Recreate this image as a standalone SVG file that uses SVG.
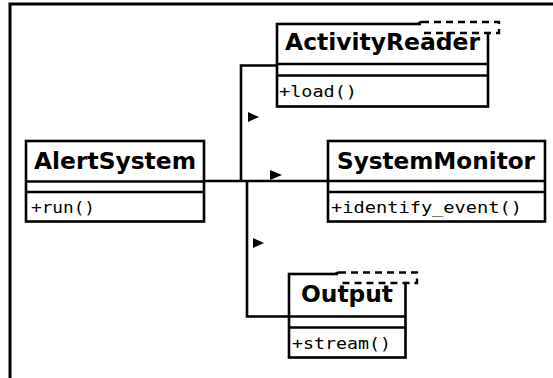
<svg xmlns="http://www.w3.org/2000/svg" width="553" height="378" viewBox="0 0 553 378">
<style>
.box{fill:#fff;stroke:#000;stroke-width:2.6}
.div{stroke:#000;stroke-width:2.6;fill:none}
.tplbg{fill:#fff;stroke:none}
.tpl{fill:none;stroke:#000;stroke-width:2.4;stroke-dasharray:7 5}
.title{font-family:"DejaVu Sans",sans-serif;font-weight:bold;font-size:23.5px;fill:#000}
.meth{font-family:"DejaVu Sans Mono",monospace;font-size:16px;fill:#000}
.conn{stroke:#000;stroke-width:2.6;fill:none}
.arr{fill:#000}
</style>
<rect width="553" height="378" fill="#fff"/>
<path d="M10,378 V4 H553" fill="none" stroke="#000" stroke-width="3"/>
<g id="connectors">
<path class="conn" d="M204,181 H328"/>
<path class="conn" d="M241,181 V65.5 H277"/>
<path class="conn" d="M247,181 V316.5 H289"/>
<polygon class="arr" points="248,112 259,117 248,122"/>
<polygon class="arr" points="270,170 282,175 270,180"/>
<polygon class="arr" points="253,238 264,243 253,248"/>
</g>
<g id="ActivityReader">
<rect class="box" x="277" y="24" width="211" height="82.5"/>
<path class="div" d="M277,64 H488 M277,75.5 H488"/>
<rect class="tplbg" x="421" y="21" width="79" height="11.5"/>
<path class="div" d="M418,24 Q420,22 422,22"/>
<path class="tpl" d="M422,22 H499 V33 H424"/>
<text class="title" x="285" y="50" textLength="195" lengthAdjust="spacingAndGlyphs">ActivityReader</text>
<text class="meth" x="279" y="97" textLength="78" lengthAdjust="spacingAndGlyphs">+load()</text>
</g>
<g id="AlertSystem">
<rect class="box" x="26" y="141" width="178" height="80.5"/>
<path class="div" d="M26,181.5 H204 M26,192 H204"/>
<text class="title" x="34" y="168.5" textLength="162" lengthAdjust="spacingAndGlyphs">AlertSystem</text>
<text class="meth" x="31" y="213" textLength="64" lengthAdjust="spacingAndGlyphs">+run()</text>
</g>
<g id="SystemMonitor">
<rect class="box" x="328" y="141" width="217" height="80.5"/>
<path class="div" d="M328,181 H545 M328,192 H545"/>
<text class="title" x="337" y="168.5" textLength="198" lengthAdjust="spacingAndGlyphs">SystemMonitor</text>
<text class="meth" x="331" y="213" textLength="191" lengthAdjust="spacingAndGlyphs">+identify_event()</text>
</g>
<g id="Output">
<rect class="box" x="289" y="274" width="116.5" height="83.5"/>
<path class="div" d="M289,316.5 H405.5 M289,327.5 H405.5"/>
<rect class="tplbg" x="338" y="271.5" width="80" height="11"/>
<path class="div" d="M335,274 Q337,272.5 339,272.5"/>
<path class="tpl" d="M339,272.5 H417 V283 H341"/>
<text class="title" x="301" y="302" textLength="92" lengthAdjust="spacingAndGlyphs">Output</text>
<text class="meth" x="292" y="349" textLength="99" lengthAdjust="spacingAndGlyphs">+stream()</text>
</g>
</svg>
